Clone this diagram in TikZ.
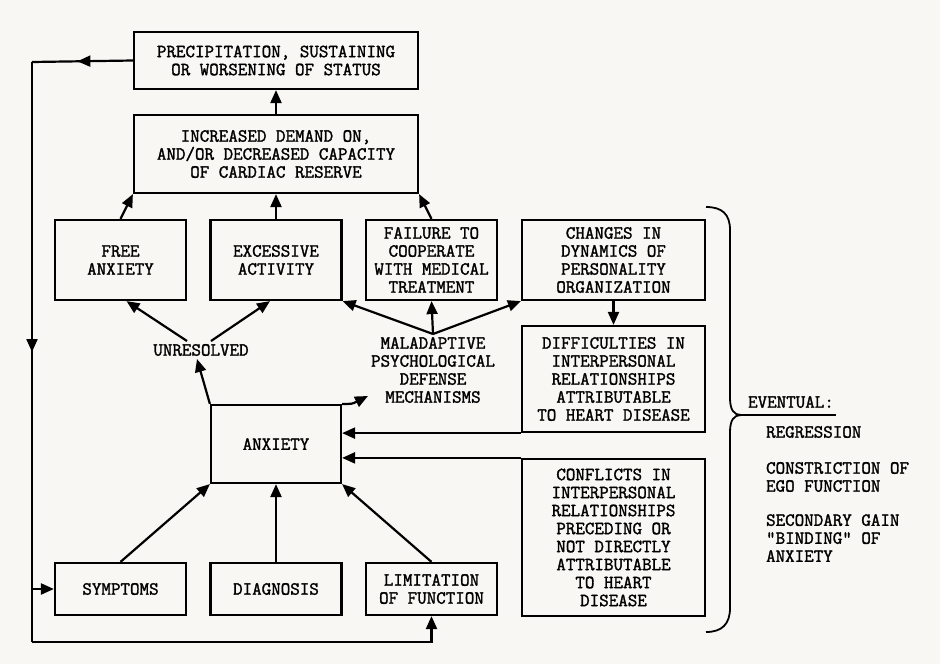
\documentclass[tikz,border=0pt]{standalone}
\usepackage{fontspec}
\newfontfamily\tw{Latin Modern Mono}[FakeBold=1.6]
\usetikzlibrary{arrows.meta,decorations.markings}
\definecolor{carta}{RGB}{248,247,243}

\begin{document}
\begin{tikzpicture}[x=1pt, y=-1pt, node distance={155.5pt}, line width=2.2pt,
            >={Triangle[length=13pt,width=11pt]},
            main/.style = {draw, rectangle, align=center, inner sep=0pt,
                           font=\tw\fontsize{18.5}{18}\selectfont},
            testo/.style = {align=center, inner sep=2pt, font=\tw\fontsize{18.5}{18}\selectfont},
            lista/.style = {align=left, anchor=west, inner sep=0pt, font=\tw\fontsize{18.5}{18}\selectfont},
            arrowat/.style = {postaction={decorate},
                              decoration={markings, mark=at position #1 with {\arrow{>}}}}]

           \fill[carta] (0,0) rectangle (940,664);
           \useasboundingbox (0,0) rectangle (940,664);

           \node[main, minimum width=284pt, minimum height=57pt] (1) at (276,60.5)
                {PRECIPITATION, SUSTAINING\\OR WORSENING OF STATUS};
           \node[main, minimum width=284pt, minimum height=78pt] (2) at (276,154)
                {INCREASED DEMAND ON,\\AND/OR DECREASED CAPACITY\\OF CARDIAC RESERVE};

           \node[main, minimum width=131pt, minimum height=80pt] (3) at (120.5,260) {FREE\\ANXIETY};
           \node[main, minimum width=131pt, minimum height=80pt] (4) [right of=3] {EXCESSIVE\\ACTIVITY};
           \node[main, minimum width=131pt, minimum height=80pt] (5) [right of=4]
                {FAILURE TO\\COOPERATE\\WITH MEDICAL\\TREATMENT};
           \node[main, minimum width=183pt, minimum height=80pt] (6) at (613.5,260)
                {CHANGES IN\\DYNAMICS OF\\PERSONALITY\\ORGANIZATION};
           \node[main, minimum width=183pt, minimum height=106pt] (7) at (613.5,379)
                {DIFFICULTIES IN\\INTERPERSONAL\\RELATIONSHIPS\\ATTRIBUTABLE\\TO HEART DISEASE};
           \node[main, minimum width=130pt, minimum height=78pt] (8) at (276,444) {ANXIETY};
           \node[main, minimum width=183pt, minimum height=157pt] (9) at (613.5,537.5)
                {CONFLICTS IN\\INTERPERSONAL\\RELATIONSHIPS\\PRECEDING OR\\NOT DIRECTLY\\ATTRIBUTABLE\\TO HEART\\DISEASE};

           \node[main, minimum width=131pt, minimum height=52pt] (10) at (120.5,589) {SYMPTOMS};
           \node[main, minimum width=131pt, minimum height=52pt] (11) [right of=10] {DIAGNOSIS};
           \node[main, minimum width=131pt, minimum height=52pt] (12) [right of=11] {LIMITATION\\OF FUNCTION};

           \node[testo] (u) at (201,350) {UNRESOLVED};
           \node[testo] (m) at (433,370) {MALADAPTIVE\\PSYCHOLOGICAL\\DEFENSE\\MECHANISMS};

           \node[lista] (ev) at (747,402) {EVENTUAL:};
           \node[lista] (r1) at (765,432) {REGRESSION};
           \node[lista] (r2) at (765,477) {CONSTRICTION OF\\EGO FUNCTION};
           \node[lista] (r3) at (765,538) {SECONDARY GAIN\\"BINDING" OF\\ANXIETY};

           \coordinate (a) at (32,62);
           \coordinate (b) at (32,642);
           \coordinate (k) at (368,396);
           \coordinate (t) at (741,415);
           \coordinate (e) at (836,415);

           %frecce verso l'alto
           \draw[->] (2.north) -- (1.south);
           \draw[->] (3.north) -- (2.south west);
           \draw[->] (4.north) -- (2.south);
           \draw[->] (5.north) -- (2.south east);
           \draw[->] ([xshift=-14pt]u.north) -- ([xshift=6pt]3.south);
           \draw[->] ([xshift=10pt]u.north) -- ([xshift=-6pt]4.south);
           \draw[->] (8.north west) -- ([xshift=-4pt]u.south);
           \draw[->] (m.north) -- (4.south east);
           \draw[->] (m.north) -- (5.south);
           \draw[->] (m.north) -- (6.south west);
           \draw[->] (8.north east) .. controls (352,404) .. (k);
           \draw[->] (6.south) -- (7.north);
           \draw[->] (7.south west) -- (7.south west -| 8.east);
           \draw[->] (9.north west) -- (9.north west -| 8.east);
           \draw[->] (10.north) -- (8.south west);
           \draw[->] (11.north) -- (8.south);
           \draw[->] (12.north) -- (8.south east);

           %anello a sinistra
           \draw[arrowat=0.55] (1.west) -- (a);
           \draw[arrowat=0.5] (a) -- (b);
           \draw[->] (b) -| (12.south);
           \draw[->] (a |- 10.west) -- (10.west);

           %parentesi
           \draw[line width=1.8pt] (706,207) .. controls (722,207) and (730,214) .. (730,230)
                -- (730,398) .. controls (730,410) and (734,415) .. (t)
                .. controls (734,415) and (730,420) .. (730,432)
                -- (730,608) .. controls (730,624) and (722,632) .. (706,632);
           \draw[line width=1.8pt] (t) -- (e);
        \end{tikzpicture}
\end{document}
